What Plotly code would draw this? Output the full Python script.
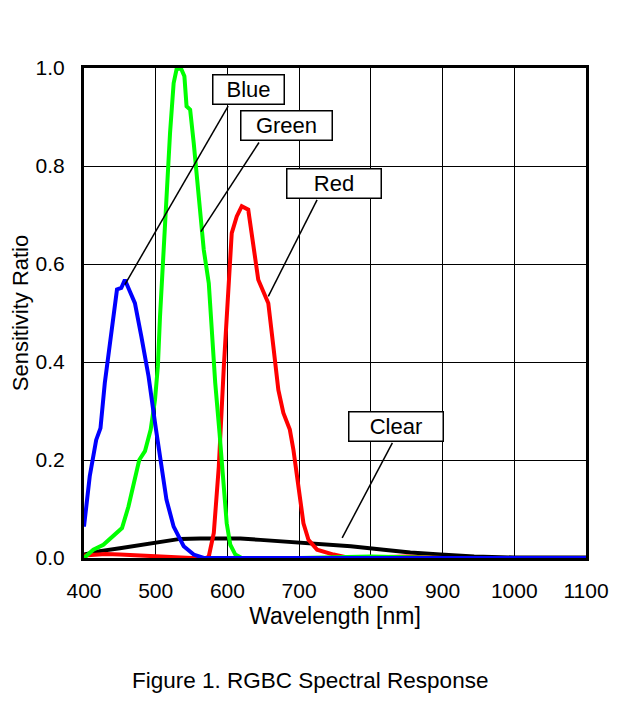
import plotly.graph_objects as go

# wavelength [nm] / sensitivity ratio
blue_nm = [400, 408, 417, 423, 429, 439, 446, 452, 457, 464, 471, 480, 490, 499, 506, 515, 525, 539, 553, 567,
           600, 700, 800, 900, 1000, 1100]
blue_val = [0.064, 0.167, 0.241, 0.265, 0.357, 0.473, 0.548, 0.551, 0.568, 0.544, 0.52, 0.452, 0.371, 0.276,
            0.207, 0.119, 0.064, 0.024, 0.007, 0.0, 0.0, 0.0, 0.0, 0.0, 0.0, 0.0]

green_nm = [400, 413, 427, 441, 453, 462, 469, 477, 485, 493, 499, 503, 506, 511, 515, 520, 525, 529, 535, 540,
            543, 548, 553, 557, 562, 567, 574, 578, 583, 589, 595, 599, 604, 611, 620, 700, 800, 900, 1000, 1100]
green_val = [0.0, 0.017, 0.027, 0.044, 0.061, 0.105, 0.153, 0.2, 0.218, 0.262, 0.323, 0.391, 0.493, 0.629, 0.765,
             0.868, 0.969, 0.997, 1.0, 0.983, 0.922, 0.915, 0.847, 0.779, 0.697, 0.629, 0.561, 0.459, 0.357, 0.255,
             0.153, 0.071, 0.027, 0.007, 0.0, 0.0, 0.003, 0.0, 0.0, 0.0]

red_nm = [400, 430, 450, 500, 550, 570, 574, 581, 588, 595, 601, 606, 613, 620, 629, 636, 643, 650, 657, 664,
          671, 678, 687, 692, 699, 706, 713, 725, 748, 770, 850, 900, 1000, 1100]
red_val = [0.005, 0.008, 0.007, 0.003, 0.0, 0.0, 0.003, 0.051, 0.187, 0.391, 0.561, 0.663, 0.697, 0.718, 0.711,
           0.643, 0.568, 0.544, 0.52, 0.432, 0.343, 0.296, 0.262, 0.221, 0.139, 0.071, 0.037, 0.017, 0.007, 0.0,
           0.003, 0.0, 0.0, 0.0]

clear_nm = [400, 422, 450, 478, 506, 534, 562, 590, 618, 646, 674, 702, 737, 772, 818, 855, 897, 944, 1000, 1100]
clear_val = [0.007, 0.014, 0.02, 0.027, 0.034, 0.039, 0.04, 0.041, 0.04, 0.037, 0.034, 0.032, 0.029, 0.024,
             0.017, 0.011, 0.007, 0.003, 0.001, 0.001]

x_ticks = [400, 500, 600, 700, 800, 900, 1000, 1100]
y_ticks = [0.0, 0.2, 0.4, 0.6, 0.8, 1.0]

# label boxes: text, box centre, box width, leader line start (box side) and end (on curve)
labels = [
    ('Blue', 630, 0.957, 74, (601, 0.922), (457, 0.558)),
    ('Green', 683, 0.882, 94, (644, 0.848), (563, 0.666)),
    ('Red', 748, 0.765, 97, (725, 0.731), (657, 0.534)),
    ('Clear', 835, 0.268, 97, (830, 0.235), (760, 0.041)),
]

FONT = 'Arial, Liberation Sans, sans-serif'

fig = go.Figure()
series = [
    (clear_nm, clear_val, 'black'),
    (red_nm, red_val, '#ff0000'),
    (green_nm, green_val, '#00ff00'),
    (blue_nm, blue_val, '#0000ff'),
]
for xs, ys, color in series:
    fig.add_trace(go.Scatter(x=xs, y=ys, mode='lines', line=dict(color=color, width=4), showlegend=False))

for text, cx, cy, w, (x0, y0), (x1, y1) in labels:
    fig.add_shape(type='line', x0=x0, y0=y0, x1=x1, y1=y1, line=dict(color='black', width=1.5))
    fig.add_annotation(x=cx, y=cy, text=text, showarrow=False, width=w - 6, height=26,
                       bgcolor='white', bordercolor='black', borderwidth=1.5, borderpad=1,
                       font=dict(family=FONT, size=22, color='black'))

# figure caption under the chart
fig.add_annotation(x=0.45, y=-0.25, xref='paper', yref='paper', xanchor='center', yanchor='middle',
                   text='Figure 1. RGBC Spectral Response', showarrow=False,
                   font=dict(family=FONT, size=22.5, color='black'))

fig.update_xaxes(range=[400, 1100], tickvals=x_ticks, ticktext=[str(v) for v in x_ticks],
                 showgrid=True, gridcolor='black', gridwidth=1, zeroline=False,
                 showline=True, linecolor='black', linewidth=3, mirror=True, automargin=False,
                 ticks='outside', ticklen=0, ticklabelstandoff=12,
                 title=dict(text='Wavelength [nm]', standoff=7, font=dict(family=FONT, size=23)),
                 tickfont=dict(family=FONT, size=21, color='black'))
fig.update_yaxes(range=[0, 1.0], tickvals=y_ticks, ticktext=['%.1f' % v for v in y_ticks],
                 showgrid=True, gridcolor='black', gridwidth=1, zeroline=False,
                 showline=True, linecolor='black', linewidth=3, mirror=True, automargin=False,
                 ticks='outside', ticklen=0, ticklabelstandoff=12,
                 title=dict(text='Sensitivity Ratio', standoff=2, font=dict(family=FONT, size=22)),
                 tickfont=dict(family=FONT, size=21, color='black'))

# page body has an 8px margin, so the figure is 8px smaller than the window
fig.update_layout(width=636, height=720, margin=dict(l=76, r=58, t=60, b=170),
                  plot_bgcolor='white', paper_bgcolor='white',
                  font=dict(family=FONT, color='black'))

fig.write_html("out.html")
